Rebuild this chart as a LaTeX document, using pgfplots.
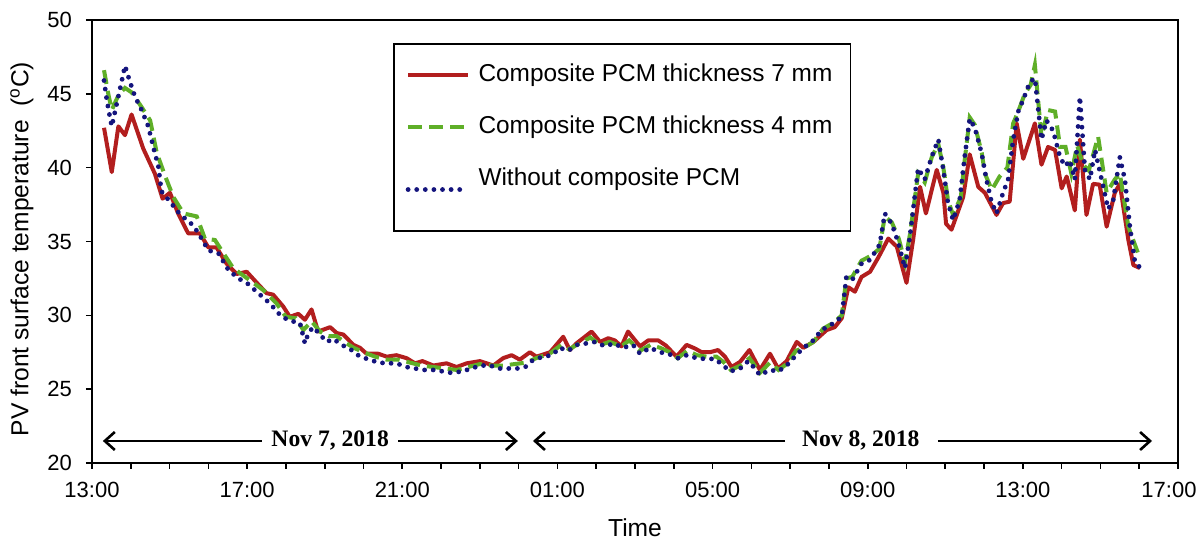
\documentclass[border=0pt]{standalone}
\usepackage{fontspec}
\setmainfont{Liberation Sans}
\newfontfamily\timesfont{Liberation Serif}
\usepackage{pgfplots}
\pgfplotsset{compat=1.18}
\usetikzlibrary{arrows.meta}
\definecolor{cred}{RGB}{178,30,30}
\definecolor{cgreen}{RGB}{95,175,40}
\definecolor{cblue}{RGB}{20,20,125}
\begin{document}
\begin{tikzpicture}
\begin{axis}[
  scale only axis, width=543pt, height=221.5pt,
  xmin=0, xmax=28, ymin=20, ymax=50,
  xtick={0,4,...,28},
  xticklabels={13:00,17:00,21:00,01:00,05:00,09:00,13:00,\hspace*{-9pt}17:00},
  minor xtick={1,2,3,5,6,7,9,10,11,13,14,15,17,18,19,21,22,23,25,26,27},
  ytick={20,25,...,50},
  xtick pos=left, ytick pos=left,
  tick align=outside, major tick length=3pt, minor tick length=3pt,
  major tick style={black, line width=0.8pt},
  minor tick style={black, line width=0.8pt},
  axis line style={black, line width=0.9pt},
  tick label style={font=\fontsize{11}{13}\selectfont},
  xticklabel style={yshift=-3pt},
  yticklabel style={xshift=-3.5pt},
  /pgf/number format/assume math mode=true,
  xlabel={Time},
  ylabel={PV front surface temperature\ \ (\textsuperscript{o}C)},
  every axis x label/.style={at={(rel axis cs:0.5,0)}, yshift=-32.5pt, anchor=center, font=\fontsize{12.3}{14}\selectfont},
  every axis y label/.style={at={(rel axis cs:0,0.5)}, xshift=-35pt, yshift=-3.75pt, rotate=90, anchor=center, font=\fontsize{12.3}{14}\selectfont},
  legend cell align=left,
  legend image code/.code={\draw[#1] (0pt,0pt) -- (30pt,0pt);},
  legend style={at={(0.277,0.948)}, anchor=north west, draw=black, line width=0.9pt,
    inner xsep=6pt, inner ysep=10pt, font=\fontsize{12.2}{14}\selectfont,
    row sep=14.5pt, nodes={inner sep=0pt, text height=9pt, text depth=2.5pt},
    /tikz/every odd column/.append style={column sep=4pt}},
]
\coordinate (sw) at (rel axis cs:0,0);
\coordinate (ne) at (rel axis cs:1,1);
\addplot[cred, line width=2pt, line join=round] coordinates {
(0.31,42.7)(0.51,39.7)(0.68,42.8)(0.85,42.2)(1.02,43.6)(1.32,41.3)(1.62,39.6)(1.82,37.9)(2.01,38.3)(2.22,36.9)
(2.48,35.55)(2.78,35.55)(3.0,34.6)(3.21,34.6)(3.47,33.5)(3.73,32.8)(3.99,32.95)(4.25,32.2)(4.5,31.5)(4.67,31.4)
(4.93,30.6)(5.1,29.9)(5.32,30.1)(5.49,29.7)(5.66,30.4)(5.83,28.9)(6.14,29.2)(6.31,28.8)(6.48,28.7)(6.74,28.0)
(6.91,27.8)(7.08,27.4)(7.38,27.4)(7.6,27.2)(7.85,27.3)(8.11,27.1)(8.33,26.75)(8.52,26.9)(8.8,26.6)(9.14,26.75)
(9.4,26.5)(9.66,26.75)(10.0,26.9)(10.35,26.6)(10.6,27.1)(10.82,27.3)(11.03,27.0)(11.29,27.5)(11.46,27.2)(11.81,27.5)
(12.15,28.55)(12.32,27.65)(12.49,28.1)(12.88,28.9)(13.1,28.2)(13.31,28.45)(13.48,28.3)(13.65,27.9)(13.82,28.9)(14.13,27.9)
(14.34,28.3)(14.6,28.3)(14.8,27.95)(15.07,27.2)(15.33,28.0)(15.55,27.75)(15.72,27.5)(15.93,27.5)(16.14,27.65)(16.32,27.2)
(16.49,26.5)(16.71,26.85)(16.95,27.65)(17.22,26.3)(17.48,27.4)(17.69,26.4)(17.91,26.9)(18.17,28.2)(18.34,27.8)(18.6,28.2)
(18.94,29.0)(19.15,29.2)(19.33,29.8)(19.5,31.9)(19.67,31.6)(19.84,32.6)(20.06,32.95)(20.27,33.9)(20.53,35.2)(20.75,34.65)
(21.0,32.2)(21.17,35.1)(21.35,38.7)(21.5,36.9)(21.78,39.85)(21.95,38.3)(22.02,36.2)(22.16,35.8)(22.46,38.0)(22.63,40.9)
(22.85,38.7)(23.02,38.3)(23.32,36.8)(23.49,37.6)(23.66,37.7)(23.84,43.0)(24.01,40.6)(24.31,43.0)(24.48,40.2)(24.65,41.4)
(24.83,41.2)(25.0,38.6)(25.13,39.4)(25.34,37.1)(25.47,41.9)(25.64,36.8)(25.81,38.9)(25.98,38.85)(26.16,36.0)(26.37,38.3)
(26.5,38.9)(26.72,35.1)(26.85,33.4)(27.02,33.2)
};
\addlegendentry{Composite PCM thickness 7 mm\hspace*{3pt}}
\addplot[cgreen, line width=2pt, dash pattern=on 7pt off 3.5pt] coordinates {
(0.31,46.6)(0.42,45.0)(0.51,43.9)(0.68,44.9)(0.85,45.4)(1.02,45.1)(1.28,44.1)(1.5,43.2)(1.67,41.0)(1.89,39.4)
(2.1,38.0)(2.36,36.9)(2.7,36.7)(2.91,35.2)(3.17,35.1)(3.39,34.2)(3.64,33.2)(3.9,32.7)(4.16,32.2)(4.42,31.7)
(4.76,30.8)(5.0,29.9)(5.25,29.8)(5.45,29.0)(5.66,29.6)(5.88,28.9)(6.1,28.6)(6.3,28.6)(6.5,28.2)(6.75,27.8)
(7.0,27.5)(7.3,27.2)(7.6,27.0)(7.9,27.0)(8.2,26.8)(8.5,26.6)(8.8,26.5)(9.1,26.4)(9.4,26.3)(9.7,26.5)
(10.0,26.7)(10.3,26.6)(10.6,26.6)(10.9,26.7)(11.2,26.8)(11.45,27.1)(11.8,27.4)(12.1,28.0)(12.3,27.7)(12.5,28.0)
(12.85,28.5)(13.1,28.0)(13.35,28.2)(13.65,27.9)(13.85,28.3)(14.13,27.6)(14.4,28.0)(14.65,27.8)(14.9,27.5)(15.1,27.1)
(15.35,27.6)(15.6,27.3)(15.85,27.2)(16.1,27.2)(16.3,26.8)(16.47,26.3)(16.72,26.6)(16.95,27.1)(17.22,26.1)(17.48,26.8)
(17.7,26.3)(17.91,26.7)(18.15,27.6)(18.35,27.8)(18.6,28.2)(18.85,29.1)(19.12,29.5)(19.33,30.0)(19.45,32.5)(19.6,32.6)
(19.84,33.7)(20.06,34.0)(20.3,34.5)(20.44,36.7)(20.62,36.3)(20.8,35.2)(20.96,33.6)(21.09,35.5)(21.3,39.6)(21.47,39.0)
(21.65,40.7)(21.82,41.6)(21.95,40.0)(22.07,37.8)(22.2,36.8)(22.4,38.0)(22.5,40.5)(22.63,43.4)(22.76,42.9)(22.94,41.0)
(23.02,39.6)(23.2,38.5)(23.4,39.4)(23.6,40.0)(23.75,43.0)(23.88,43.8)(24.05,45.0)(24.2,45.6)(24.31,46.95)(24.48,42.1)
(24.65,43.9)(24.83,43.8)(24.96,41.4)(25.1,41.4)(25.25,39.6)(25.4,41.5)(25.55,40.2)(25.7,39.8)(25.94,42.1)(26.16,38.3)
(26.37,39.2)(26.5,39.6)(26.72,36.0)(26.97,34.2)
};
\addlegendentry{Composite PCM thickness 4 mm}
\addplot[cblue, line width=2.4pt, line cap=round, dash pattern=on 0pt off 4.3pt] coordinates {
(0.31,45.9)(0.38,44.6)(0.46,43.45)(0.51,42.8)(0.64,44.35)(0.77,45.9)(0.85,46.9)(0.98,45.8)(1.11,44.8)(1.28,43.9)
(1.45,42.8)(1.58,41.4)(1.71,40.1)(1.79,38.4)(2.01,37.7)(2.22,37.0)(2.44,36.45)(2.61,36.1)(2.78,35.4)(3.0,34.4)
(3.26,34.2)(3.51,33.1)(3.77,32.5)(3.99,32.2)(4.33,31.4)(4.59,30.8)(4.89,29.9)(5.15,29.6)(5.36,29.5)(5.49,28.1)
(5.58,28.8)(5.7,29.2)(5.88,28.7)(6.05,28.2)(6.22,28.4)(6.44,28.0)(6.69,27.65)(6.91,27.2)(7.16,27.0)(7.38,26.8)
(7.64,26.75)(7.85,26.75)(8.11,26.5)(8.33,26.4)(8.58,26.3)(8.8,26.3)(9.06,26.2)(9.27,26.1)(9.53,26.2)(9.79,26.4)
(10.0,26.6)(10.27,26.6)(10.48,26.4)(10.74,26.4)(10.96,26.4)(11.17,26.5)(11.38,27.0)(11.64,27.2)(11.86,27.3)(12.06,27.8)
(12.28,27.6)(12.49,28.0)(12.75,28.1)(12.97,28.2)(13.23,27.9)(13.45,28.1)(13.69,27.8)(13.95,28.0)(14.13,27.4)(14.39,27.8)
(14.64,27.5)(14.86,27.4)(15.11,27.1)(15.33,27.3)(15.59,27.1)(15.8,27.05)(16.06,27.05)(16.28,26.6)(16.45,26.2)(16.71,26.4)
(16.92,26.9)(17.09,26.4)(17.22,25.95)(17.48,26.3)(17.69,26.2)(17.91,26.6)(18.12,27.2)(18.34,27.8)(18.56,28.2)(18.81,29.0)
(19.11,29.45)(19.33,29.9)(19.45,32.6)(19.6,32.4)(19.84,33.5)(20.06,33.75)(20.31,34.8)(20.44,36.9)(20.62,36.2)(20.79,34.9)
(20.96,33.2)(21.09,35.4)(21.3,39.95)(21.47,39.2)(21.65,40.75)(21.82,41.9)(21.95,39.85)(22.07,37.6)(22.2,36.45)(22.37,37.8)
(22.5,40.75)(22.63,43.3)(22.76,42.7)(22.94,40.95)(23.06,39.2)(23.19,37.7)(23.32,36.9)(23.49,38.3)(23.62,39.2)(23.75,41.9)
(23.88,43.8)(24.01,44.6)(24.18,45.8)(24.31,46.05)(24.39,44.1)(24.48,41.9)(24.61,43.2)(24.78,42.5)(24.96,40.7)(25.09,40.1)
(25.21,40.5)(25.34,39.2)(25.47,44.8)(25.6,39.85)(25.73,39.2)(25.86,41.2)(26.03,39.2)(26.2,37.2)(26.33,37.8)(26.5,40.7)
(26.63,39.2)(26.76,36.0)(26.89,33.6)(27.0,33.3)
};
\addlegendentry[text depth=12.6pt]{Without composite PCM}
% date annotations
\tikzset{datearrow/.style={line width=1.3pt, -{Straight Barb[length=5pt,width=9pt,line width=1.3pt]}}}
\draw[datearrow] (axis cs:4.38,21.49) -- (axis cs:0.28,21.49);
\draw[datearrow] (axis cs:7.89,21.49) -- (axis cs:10.98,21.49);
\draw[datearrow] (axis cs:17.87,21.49) -- (axis cs:11.37,21.49);
\draw[datearrow] (axis cs:21.81,21.49) -- (axis cs:27.33,21.49);
\node[font=\timesfont\bfseries\fontsize{11.8}{13}\selectfont] at (axis cs:6.14,21.55) {Nov 7, 2018};
\node[font=\timesfont\bfseries\fontsize{11.8}{13}\selectfont] at (axis cs:19.82,21.55) {Nov 8, 2018};
\end{axis}
\pgfresetboundingbox
\useasboundingbox ([shift={(-46pt,-40.5pt)}]sw) rectangle ([shift={(10pt,10pt)}]ne);
\end{tikzpicture}
\end{document}
